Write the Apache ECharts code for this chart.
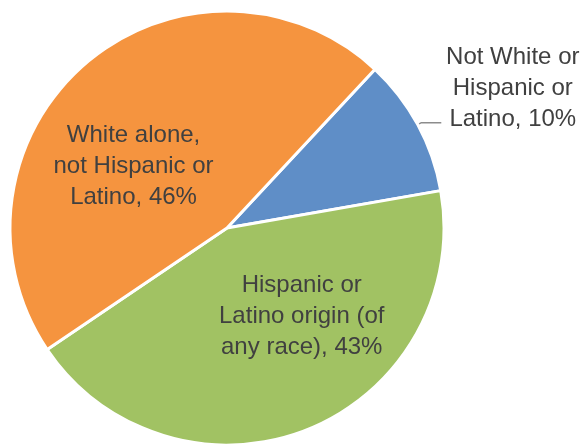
<!DOCTYPE html>
<html>
<head>
<meta charset="utf-8">
<script src="https://cdn.jsdelivr.net/npm/echarts@6/dist/echarts.min.js"></script>
<style>
    html, body { margin: 0; padding: 0; background: #fff; }
    #chart { width: 584px; height: 448px; }
</style>
</head>
<body>
<div id="chart"></div>
<script>
// slices in clockwise order, starting from the top right
var categories = ['Not White or\nHispanic or\nLatino', 'Hispanic or\nLatino origin (of\nany race)', 'White alone,\nnot Hispanic or\nLatino'];
var shares = [10.3, 43.3, 46.4];
var colors = ['#5f8ec7', '#a1c263', '#f5943f'];

// nudges for the labels drawn inside their slices
var insideShift = [null, [33, -15], [-21, 23]];

var chart = echarts.init(document.getElementById('chart'), null, { renderer: 'canvas' });

var textColor = '#404040';
var fontFamily = 'Liberation Sans, Arial, sans-serif';

function labelText(name, value) {
    return name + ', ' + Math.round(value) + '%';
}

var data = [];
for (var i = 0; i < categories.length; ++i) {
    var item = {
        name: categories[i],
        value: shares[i],
        itemStyle: { color: colors[i] }
    };
    if (i == 0) {
        item.label = {
            position: 'outside',
            padding: [0, 0, 69, 0],
            formatter: function (p) {
                return labelText(p.name, p.value).split('\n').map(function (s) {
                    return '{c|' + s + '}';
                }).join('\n');
            },
            rich: {
                c: {
                    width: 137,
                    align: 'center',
                    fontSize: 24,
                    lineHeight: 30.7,
                    fontFamily: fontFamily,
                    color: textColor
                }
            }
        };
        item.labelLine = {
            show: true,
            length: 4,
            length2: 20,
            lineStyle: { color: '#8c8c8c', width: 1.5 }
        };
    }
    else {
        item.label = { position: 'inside' };
        item.labelLine = { show: false };
    }
    data.push(item);
}

var option = {
    animation: false,
    series: [
        {
            type: 'pie',
            left: 0,
            top: 0,
            width: 800,
            height: 448,
            center: [227, 228],
            radius: 217,
            startAngle: 47,
            clockwise: true,
            avoidLabelOverlap: false,
            bleedMargin: 0,
            silent: true,
            itemStyle: {
                borderColor: '#ffffff',
                borderWidth: 3
            },
            label: {
                show: true,
                fontSize: 24,
                lineHeight: 30.7,
                fontFamily: fontFamily,
                color: textColor,
                distanceToLabelLine: 3,
                formatter: function (p) {
                    return labelText(p.name, p.value);
                }
            },
            labelLayout: function (p) {
                var o = insideShift[p.dataIndex];
                if (o) {
                    return { dx: o[0], dy: o[1] };
                }
            },
            data: data
        }
    ]
};
chart.setOption(option);
</script>
</body>
</html>
